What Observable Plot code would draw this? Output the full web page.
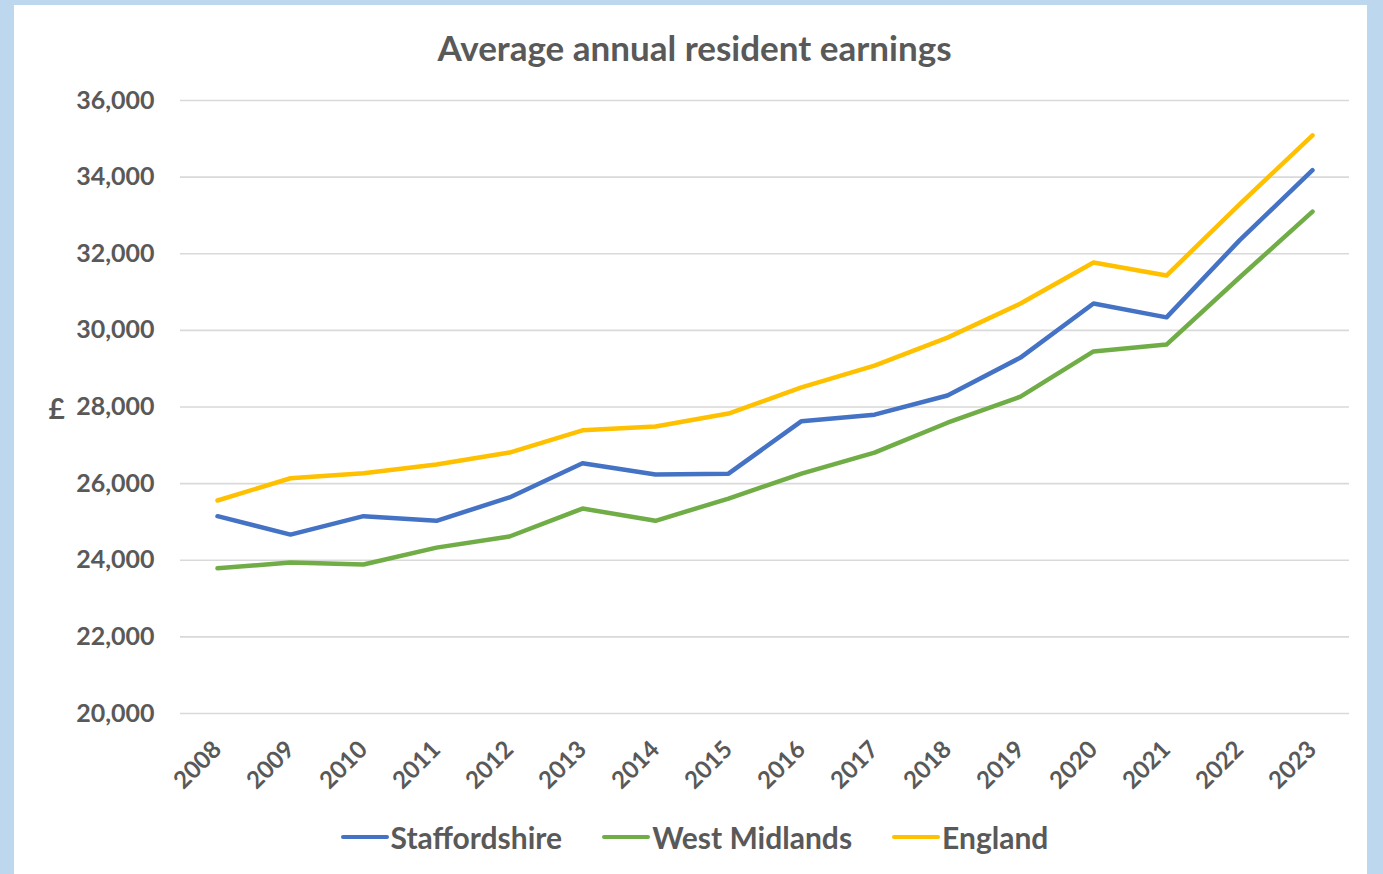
<!DOCTYPE html>
<html>
<head>
<meta charset="utf-8">
<script src="https://cdn.jsdelivr.net/npm/d3@7"></script>
<script src="https://cdn.jsdelivr.net/npm/@observablehq/plot@0.6"></script>
<style>
  html, body { margin: 0; padding: 0; }
  body { width: 1383px; height: 874px; background: #bdd7ee; position: relative; overflow: hidden; font-family: Lato, "Open Sans", sans-serif; }
  #panel { position: absolute; left: 14px; top: 5px; width: 1353px; height: 869px; background: #fff; }
  #title { position: absolute; left: 4px; width: 100%; top: 22px; text-align: center; font-size: 35px; font-weight: bold; color: #595959; line-height: 40px; }
  #chart { position: absolute; left: 0; top: 75px; }
  #legend { position: absolute; left: 4px; width: 100%; top: 810px; display: flex; justify-content: center; gap: 40px; font-size: 30px; font-weight: bold; color: #595959; line-height: 44px; }
  .item { display: flex; align-items: center; }
  .swatch { width: 48px; height: 4px; border-radius: 2px; margin-right: 2px; }
</style>
</head>
<body>
<div id="panel">
  <div id="title">Average annual resident earnings</div>
  <div id="chart"></div>
  <div id="legend"></div>
</div>
<script>
const years = [2008, 2009, 2010, 2011, 2012, 2013, 2014, 2015, 2016, 2017, 2018, 2019, 2020, 2021, 2022, 2023];
const staffordshire = [25150, 24670, 25150, 25030, 25640, 26530, 26240, 26260, 27630, 27800, 28300, 29290, 30700, 30340, 32350, 34180];
const westMidlands = [23790, 23940, 23890, 24330, 24620, 25350, 25030, 25610, 26260, 26810, 27590, 28270, 29450, 29630, 31380, 33100];
const england = [25560, 26140, 26270, 26500, 26810, 27390, 27490, 27830, 28510, 29080, 29810, 30700, 31770, 31430, 33290, 35090];
const seriesNames = ["Staffordshire", "West Midlands", "England"];
const seriesColors = ["#4472c4", "#70ad47", "#ffc000"];
const yTicks = [20000, 22000, 24000, 26000, 28000, 30000, 32000, 34000, 36000];
const yAxisLabel = "£";

const seriesValues = [staffordshire, westMidlands, england];
const data = [];
seriesNames.forEach((name, i) => {
  years.forEach((yr, j) => data.push({series: name, year: yr, value: seriesValues[i][j]}));
});

const fontFamily = "Lato, 'Open Sans', sans-serif";

const chart = Plot.plot({
  width: 1353,
  height: 720,
  marginTop: 20,
  marginBottom: 87,
  marginLeft: 166,
  marginRight: 18,
  style: {fontFamily, fontSize: "24px", fontWeight: "bold", color: "#595959", background: "transparent", overflow: "visible"},
  x: {type: "point", domain: years, padding: 0.5},
  y: {domain: [20000, 36000]},
  color: {domain: seriesNames, range: seriesColors},
  marks: [
    Plot.ruleY(yTicks, {stroke: "#d9d9d9", strokeWidth: 1.6}),
    Plot.axisY({ticks: yTicks, tickSize: 0, tickPadding: 26, tickFormat: d3.format(","), label: null, fontSize: 25}),
    Plot.axisX({tickSize: 0, tickRotate: -45, tickPadding: 32, tickFormat: d => String(d), label: null, fontSize: 24}),
    Plot.text([yAxisLabel], {frameAnchor: "left", dx: -132, dy: 3, text: d => d, fontSize: 28, fontWeight: "bold", fill: "#595959"}),
    Plot.line(data, {x: "year", y: "value", z: "series", stroke: "series", strokeWidth: 4.5, strokeLinecap: "round", strokeLinejoin: "round"})
  ]
});
document.getElementById("chart").appendChild(chart);

const legend = document.getElementById("legend");
seriesNames.forEach((name, i) => {
  const item = document.createElement("div");
  item.className = "item";
  const sw = document.createElement("span");
  sw.className = "swatch";
  sw.style.background = seriesColors[i];
  const t = document.createElement("span");
  t.textContent = name;
  item.appendChild(sw);
  item.appendChild(t);
  legend.appendChild(item);
});
</script>
</body>
</html>
